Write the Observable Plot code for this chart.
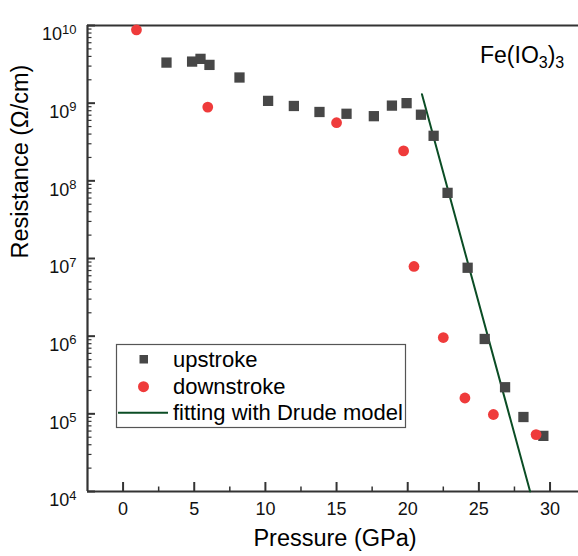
<!DOCTYPE html>
<html><head><meta charset="utf-8">
<script src="https://cdn.jsdelivr.net/npm/d3@7"></script>
<script src="https://cdn.jsdelivr.net/npm/@observablehq/plot@0.6"></script>
<style>
body{margin:0;background:#fff;}
#chart svg{display:block;}
</style></head>
<body><div id="chart"></div>
<script>
// ---- data ----
const upPressure   = [3.05, 4.85, 5.44, 6.07, 8.18, 10.19, 12.0, 13.8, 15.7, 17.62, 18.89, 19.92, 20.93, 21.82, 22.8, 24.21, 25.41, 26.84, 28.13, 29.53];
const upResistance = [3.33e9, 3.43e9, 3.72e9, 3.11e9, 2.14e9, 1.07e9, 9.2e8, 7.7e8, 7.3e8, 6.8e8, 9.3e8, 1.0e9, 7.1e8, 3.8e8, 7.0e7, 7.6e6, 9.2e5, 2.2e5, 9.1e4, 5.2e4];
const downPressure   = [0.94, 5.95, 15.0, 19.71, 20.44, 22.5, 24.02, 26.02, 29.02];
const downResistance = [8.8e9, 8.9e8, 5.6e8, 2.43e8, 7.9e6, 9.6e5, 1.6e5, 9.8e4, 5.4e4];
const fitPressure   = [21.0, 28.6];
const fitResistance = [1.3e9, 1e4];

const xDomain = [-2.5, 32];
const yDomain = [1e4, 1e10];
const xTicks = [0, 5, 10, 15, 20, 25, 30];
const xMinorTicks = [2.5, 7.5, 12.5, 17.5, 22.5, 27.5];
const yTicks = [1e4, 1e5, 1e6, 1e7, 1e8, 1e9, 1e10];
const yMinorTicks = [];
for (let k = 4; k < 10; k++) for (let m = 2; m <= 9; m++) yMinorTicks.push(m * Math.pow(10, k));

const legendLabels = ["upstroke", "downstroke", "fitting with Drude model"];
const xLabel = "Pressure (GPa)";
const yLabel = "Resistance (Ω/cm)";

const up = upPressure.map((p, i) => ({p, r: upResistance[i]}));
const down = downPressure.map((p, i) => ({p, r: downResistance[i]}));
const fit = fitPressure.map((p, i) => ({p, r: fitResistance[i]}));

const FONT = "'Liberation Sans', Arial, Helvetica, sans-serif";
const AX = "#333333";
const SQ = "#474747";
const RED = "#ef3b3b";
const GREEN = "#0b4d25";

const W = 578, H = 556, ML = 87, MR = 0, MT = 25, MB = 65;
const FW = W - ML - MR, FH = H - MT - MB;

const plot = Plot.plot({
  width: W, height: H,
  marginLeft: ML, marginRight: MR, marginTop: MT, marginBottom: MB,
  style: {fontFamily: FONT, background: "#fff", color: "#000", overflow: "visible"},
  x: {domain: xDomain},
  y: {type: "log", domain: yDomain},
  marks: [
    // axes: labels only
    Plot.axisX(xTicks, {tickSize: 0, tickPadding: 11, fontSize: 18, label: null, color: "#111"}),
    Plot.axisY(yTicks, {tickSize: 0, tickPadding: 11, fontSize: 18, label: null, color: "#111",
      tickFormat: d => String(Math.round(Math.log10(d)))}),
    // inward ticks
    Plot.tickX(xTicks, {x: d => d, insetTop: FH - 9, stroke: AX, strokeWidth: 2}),
    Plot.tickX(xMinorTicks, {x: d => d, insetTop: FH - 4.5, stroke: AX, strokeWidth: 1.5}),
    Plot.tickY(yTicks, {y: d => d, insetRight: FW - 8, stroke: AX, strokeWidth: 2}),
    Plot.tickY(yMinorTicks, {y: d => d, insetRight: FW - 4.5, stroke: AX, strokeWidth: 1.2}),
    // spines
    Plot.ruleY([yDomain[1]], {stroke: AX, strokeWidth: 2.2}),
    Plot.ruleY([yDomain[0]], {stroke: AX, strokeWidth: 2.2}),
    Plot.ruleX([xDomain[0]], {stroke: AX, strokeWidth: 2.2}),
    // data
    Plot.line(fit, {x: "p", y: "r", stroke: GREEN, strokeWidth: 2}),
    Plot.dot(up, {x: "p", y: "r", symbol: "square", r: 5.8, fill: SQ}),
    Plot.dot(down, {x: "p", y: "r", symbol: "circle", r: 5.4, fill: RED}),
    // axis titles
    Plot.text([xLabel], {frameAnchor: "bottom", dy: 54, dx: 2, fontSize: 23.5, fill: "#000"}),
    Plot.text([yLabel], {frameAnchor: "left", dx: -67, rotate: -90, fontSize: 23.5, fill: "#000"})
  ]
});

const svg = d3.select(plot);

// superscript y tick labels: 10^k
svg.selectAll('g[aria-label="y-axis tick label"] text').each(function() {
  const t = d3.select(this);
  const e = t.text();
  t.text(null);
  t.attr("dy", "0.5em");
  t.append("tspan").text("10");
  t.append("tspan").attr("dy", "-0.5em").attr("font-size", 13).text(e);
});

// compound label
const comp = svg.append("text")
  .attr("x", 480).attr("y", 63).attr("text-anchor", "start")
  .attr("font-size", 23).attr("font-family", FONT).attr("fill", "#000");
comp.append("tspan").text("Fe(IO");
comp.append("tspan").attr("font-size", 16).attr("dy", 5).text("3");
comp.append("tspan").attr("dy", -5).text(")");
comp.append("tspan").attr("font-size", 16).attr("dy", 5).text("3");

// legend
const lg = svg.append("g").attr("font-family", FONT).attr("font-size", 22).attr("text-anchor", "start");
lg.append("rect").attr("x", 116.5).attr("y", 344.5).attr("width", 289).attr("height", 83)
  .attr("fill", "#fff").attr("stroke", "#555").attr("stroke-width", 1.2);
lg.append("rect").attr("x", 139.5).attr("y", 355).attr("width", 8.5).attr("height", 8.5).attr("fill", SQ);
lg.append("circle").attr("cx", 143.5).attr("cy", 386.7).attr("r", 5.5).attr("fill", RED);
lg.append("line").attr("x1", 118).attr("x2", 168).attr("y1", 412.7).attr("y2", 412.7)
  .attr("stroke", GREEN).attr("stroke-width", 2);
const baselines = [366.7, 393.5, 419.5];
legendLabels.forEach((s, i) => {
  lg.append("text").attr("x", 173).attr("y", baselines[i]).attr("fill", "#000").text(s);
});

document.getElementById("chart").appendChild(plot);
</script>
</body></html>
